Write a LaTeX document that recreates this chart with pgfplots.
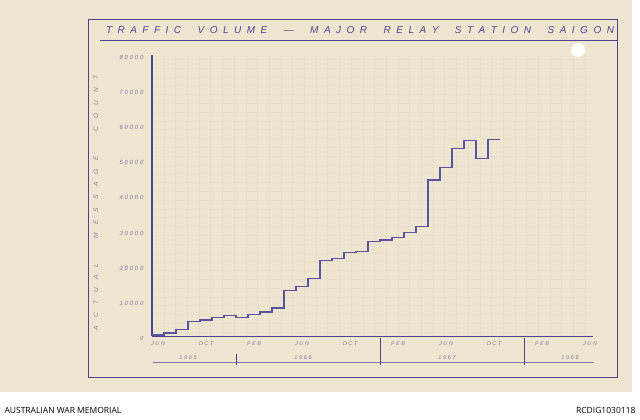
\documentclass[border=0pt]{standalone}
\usepackage{pgfplots}
\pgfplotsset{compat=1.18}
\usepackage{fontspec}
\setmainfont{Liberation Sans}
\newfontfamily\lettering{Liberation Sans}[LetterSpace=30]
\newfontfamily\footfont{Open Sans}
\definecolor{paper}{RGB}{239,230,210}
\definecolor{ink}{RGB}{78,68,145}
\definecolor{stepink}{RGB}{92,82,162}
\definecolor{faint}{RGB}{130,120,165}
\definecolor{gridc}{RGB}{233,224,204}
\pgfplotstableread{
x y
-0.5 400
0.5 1000
1.5 2000
2.5 4300
3.5 4700
4.5 5350
5.5 6000
6.5 5450
7.5 6300
8.5 6950
9.5 8100
10.5 13000
11.5 14200
12.5 16500
13.5 21500
14.5 22150
15.5 23850
16.5 24150
17.5 27100
18.5 27400
19.5 28100
20.5 29600
21.5 31350
22.5 44500
23.5 48100
24.5 53450
25.5 55800
26.5 50600
27.5 56050
28.5 56050
}\traffic
\begin{document}
\begin{tikzpicture}[x=1pt,y=1pt]
\useasboundingbox (0,0) rectangle (640,420);
\fill[white] (0,0) rectangle (640,420);
\fill[paper] (0,28) rectangle (632,420);
% faint graph-paper grid
\draw[gridc, line width=0.35pt, xstep=11.7, ystep=8.8] (153,83.5) grid (594,365);
% frame
\draw[ink, line width=1pt] (88,42) rectangle (617,400);
\draw[ink, line width=0.9pt] (100,380) -- (617,380);
% title
\node[text=ink, font=\fontsize{10}{11}\selectfont\itshape] at (360,390)
 {\makebox[508pt][s]{T\hfill R\hfill A\hfill F\hfill F\hfill I\hfill C\hfill\hfill\hfill V\hfill O\hfill L\hfill U\hfill M\hfill E\hfill\hfill\hfill ---\hfill\hfill\hfill M\hfill A\hfill J\hfill O\hfill R\hfill\hfill\hfill R\hfill E\hfill L\hfill A\hfill Y\hfill\hfill\hfill S\hfill T\hfill A\hfill T\hfill I\hfill O\hfill N\hfill\hfill\hfill S\hfill A\hfill I\hfill G\hfill O\hfill N}};
% hole punch
\fill[white] (578,370) circle (7);
% y label
\node[text=faint, rotate=90, font=\fontsize{6.5}{7}\selectfont\itshape] at (96,217)
 {\makebox[255pt][s]{A\hfill C\hfill T\hfill U\hfill A\hfill L\hfill\hfill\hfill M\hfill E\hfill S\hfill S\hfill A\hfill G\hfill E\hfill\hfill\hfill C\hfill O\hfill U\hfill N\hfill T}};
\begin{axis}[
  at={(152pt,83.5pt)}, anchor=south west,
  scale only axis, width=441pt, height=281.5pt,
  xmin=-0.5, xmax=36.25, ymin=0, ymax=80000,
  axis x line=bottom, axis y line=left,
  axis line style={-, ink, line width=1.3pt},
  major tick length=0pt,
  xtick={0,4,...,36},
  xticklabels={JUN,OCT,FEB,JUN,OCT,FEB,JUN,OCT,FEB,JUN},
  ytick={0,10000,...,80000},
  yticklabels={0,10000,20000,30000,40000,50000,60000,70000,80000},
  scaled y ticks=false,
  xticklabel style={text=faint, font=\lettering\fontsize{5.5}{6}\selectfont\itshape, yshift=-2pt},
  yticklabel style={text=faint, font=\lettering\fontsize{6}{7}\selectfont\itshape, xshift=-5pt, yshift=-2pt},
]
\addplot[const plot mark left, stepink, line width=1.2pt, mark=none] table[x=x,y=y] {\traffic};
\end{axis}
% year row
\draw[faint, line width=0.6pt] (153,58) -- (594,58);
\draw[ink, line width=0.7pt] (236,55) -- (236,66);
\draw[ink, line width=0.7pt] (380,55) -- (380,82);
\draw[ink, line width=0.7pt] (524,55) -- (524,82);
\foreach \xx/\yy in {188/1965,303/1966,447/1967,570/1968}
  \node[text=faint, font=\lettering\fontsize{5.5}{6}\selectfont\itshape] at (\xx,62) {\yy};
% footer
\node[anchor=west, font=\footfont\fontsize{8.5}{10}\selectfont] at (1,9.5) {AUSTRALIAN WAR MEMORIAL};
\node[anchor=east, font=\footfont\fontsize{8.5}{10}\selectfont] at (639,9.5) {RCDIG1030118};
\end{tikzpicture}
\end{document}
